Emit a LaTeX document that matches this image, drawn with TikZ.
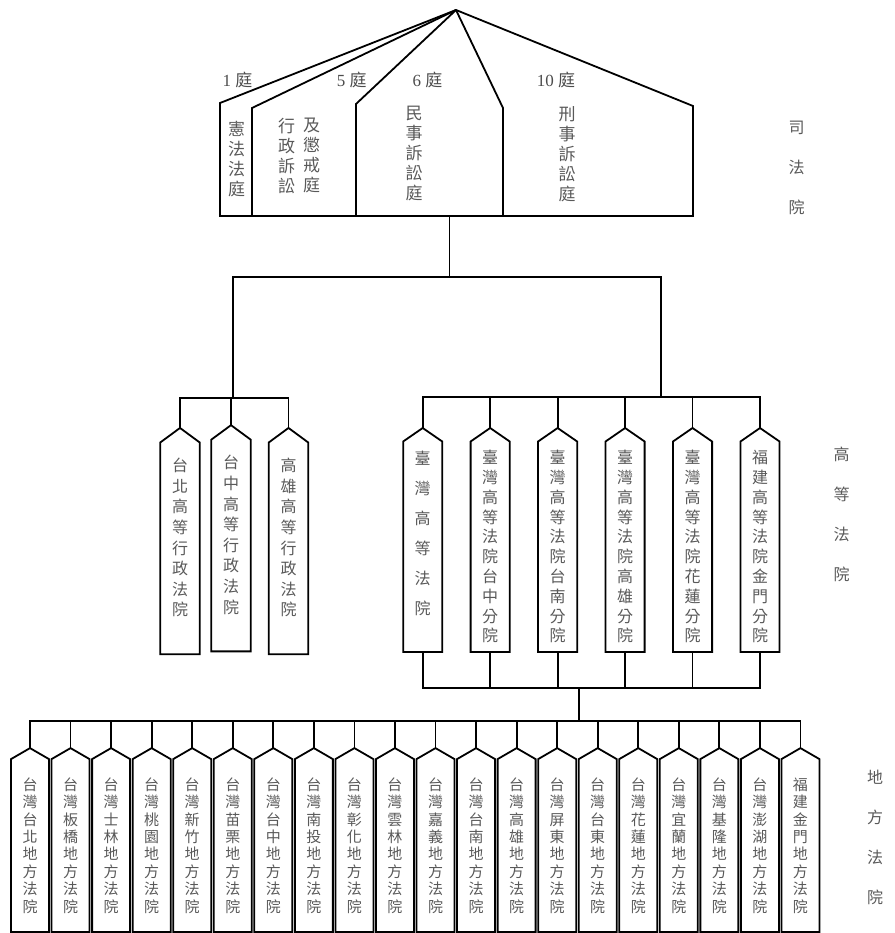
\documentclass[tikz,border=0pt]{standalone}
\usepackage{fontspec}
\setmainfont{Liberation Serif}
\newfontfamily\cjk{Noto Sans CJK TC}
\usetikzlibrary{positioning}
% one character per line, for the upright columns
\ExplSyntaxOn
\seq_new:N \l_colchars_seq
\NewDocumentCommand\colchars{m}{
  \seq_clear:N \l_colchars_seq
  \exp_args:No \tl_map_inline:nn {#1} {\seq_put_right:Nn \l_colchars_seq {##1}}
  \seq_use:Nn \l_colchars_seq {\\}
}
\ExplSyntaxOff
\tikzset{
  wire/.style={line width=1.8pt, line join=miter},
  court/.style={inner sep=0pt, align=center, text=black!65},
  topcourt/.style={court, font=\cjk\fontsize{17}{20}\selectfont},
  admcourt/.style={court, minimum width=39pt, minimum height=211.3pt, text depth=22.5pt,
    font=\cjk\fontsize{16}{20.6}\selectfont},
  highcourt/.style={court, minimum width=38.7pt, minimum height=210pt,
    font=\cjk\fontsize{16}{19.8}\selectfont},
  distcourt/.style={court, minimum width=37.6pt, minimum height=172.4pt,
    font=\cjk\fontsize{15}{17.4}\selectfont},
  seats/.style={inner sep=0pt, text=black!70, font=\fontsize{17}{20}\selectfont},
  tier/.style={court, font=\cjk\fontsize{16}{40}\selectfont}
}
\begin{document}
\begin{tikzpicture}[x=1pt,y=-1pt]
\useasboundingbox (0,0) rectangle (894,933);

% judicial yuan
\coordinate (apex) at (456,10);
\draw[wire] (apex) -- (220,103) -- (220,216) -- (693,216) -- (693,106) -- cycle;
\draw[wire] (apex) -- (252,108) -- (252,216);
\draw[wire] (apex) -- (356,104) -- (356,216);
\draw[wire] (apex) -- (503,108) -- (503,216);
\node[seats] (s1) at (237.5,80) {1 {\cjk 庭}};
\node[seats] (s5) at (351.7,80) {5 {\cjk 庭}};
\node[seats] (s6) at (427.5,80) {6 {\cjk 庭}};
\node[seats] (s10) at (556,80) {10 {\cjk 庭}};
\node[topcourt] (const) at (236.7,159) {\colchars{憲法法庭}};
\node[topcourt] (admin) at (286.7,155.8) {\colchars{行政訴訟}};
\node[topcourt] (disc) at (311.7,155.8) {\colchars{及懲戒庭}};
\node[topcourt] (civil) at (414,153.3) {\colchars{民事訴訟庭}};
\node[topcourt] (crim) at (567,153.8) {\colchars{刑事訴訟庭}};

\node[tier] (tsy) at (796.7,167.5) {\colchars{司法院}};
\node[tier] (tgd) at (841.7,514.5) {\colchars{高等法院}};
\node[tier] (tdf) at (875,837) {\colchars{地方法院}};

% high courts
\node[admcourt] (x1) at (180,548.3) {\colchars{台北高等行政法院}};
\node[admcourt] (x2) at (231,545.5) {\colchars{台中高等行政法院}};
\node[admcourt] (x3) at (288.5,548.3) {\colchars{高雄高等行政法院}};
\node[highcourt, font=\cjk\fontsize{16}{30}\selectfont, text depth=27pt] (h0) at (422.7,546.7) {\colchars{臺灣高等法院}};
\foreach \i/\t in {1/臺灣高等法院台中分院,2/臺灣高等法院台南分院,3/臺灣高等法院高雄分院,
                   4/臺灣高等法院花蓮分院,5/福建高等法院金門分院}
  \node[highcourt] (h\i) at (422.7+67.46*\i,546.7) {\colchars{\t}};

% district courts
\foreach \i/\t in {0/台灣台北地方法院,1/台灣板橋地方法院,2/台灣士林地方法院,3/台灣桃園地方法院,
                   4/台灣新竹地方法院,5/台灣苗栗地方法院,6/台灣台中地方法院,7/台灣南投地方法院,
                   8/台灣彰化地方法院,9/台灣雲林地方法院,10/台灣嘉義地方法院,11/台灣台南地方法院,
                   12/台灣高雄地方法院,13/台灣屏東地方法院,14/台灣台東地方法院,15/台灣花蓮地方法院,
                   16/台灣宜蘭地方法院,17/台灣基隆地方法院,18/台灣澎湖地方法院,19/福建金門地方法院}
  \node[distcourt] (d\i) at (30+40.55*\i,845.5) {\colchars{\t}};

% outlines
\foreach \n in {x1,x2,x3}
  \draw[wire] (\n.south west) -- (\n.north west) -- ([yshift=14.5pt]\n.north) -- (\n.north east) -- (\n.south east) -- cycle;
\foreach \n in {h0,h1,h2,h3,h4,h5}
  \draw[wire] (\n.south west) -- (\n.north west) -- ([yshift=13.5pt]\n.north) -- (\n.north east) -- (\n.south east) -- cycle;
\foreach \i in {0,...,19}
  \draw[wire] (d\i.south west) -- (d\i.north west) -- ([yshift=11pt]d\i.north) -- (d\i.north east) -- (d\i.south east) -- cycle;

% connectors
\coordinate (sjy) at (449.5,216);
\coordinate (fork) at (449.5,277);
\coordinate (admbar) at (232.7,398);
\coordinate (highbar) at (660.7,397);
\coordinate (highlow) at (579.3,688);
\coordinate (distbar) at (579.3,721);
\draw[wire] (sjy) -- (fork);
\draw[wire] (admbar) |- (fork) -| (highbar);
\draw[wire] ([yshift=14.5pt]x1.north) |- (admbar) -| ([yshift=14.5pt]x3.north);
\draw[wire] ([yshift=14.5pt]x2.north) -- (x2.north |- admbar);
\draw[wire] ([yshift=13.5pt]h0.north) |- (highbar) -| ([yshift=13.5pt]h5.north);
\foreach \n in {h1,h2,h3,h4}
  \draw[wire] ([yshift=13.5pt]\n.north) -- (\n.north |- highbar);
\draw[wire] (h0.south) |- (highlow) -| (h5.south);
\foreach \n in {h1,h2,h3,h4}
  \draw[wire] (\n.south) -- (\n.south |- highlow);
\draw[wire] (highlow) -- (distbar);
\draw[wire] ([yshift=11pt]d0.north) |- (distbar) -| ([yshift=11pt]d19.north);
\foreach \i in {1,...,18}
  \draw[wire] ([yshift=11pt]d\i.north) -- (d\i.north |- distbar);
\end{tikzpicture}
\end{document}
